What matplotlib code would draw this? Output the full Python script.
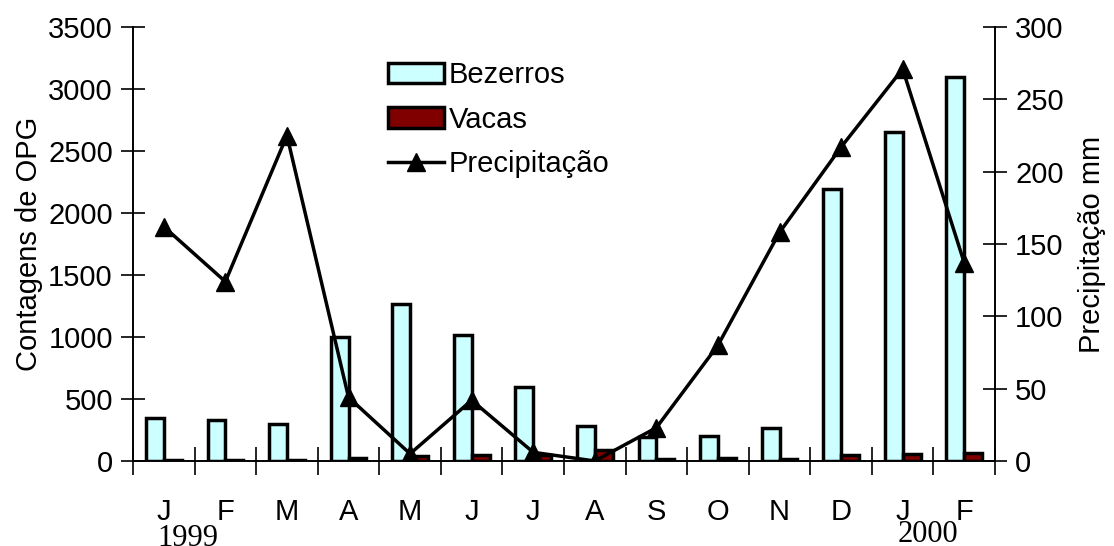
import numpy as np
import matplotlib
matplotlib.use('Agg')
import matplotlib.pyplot as plt
from matplotlib.patches import Patch
from matplotlib.lines import Line2D

plt.rcParams['font.family'] = ['Liberation Sans', 'DejaVu Sans']

meses = ['J', 'F', 'M', 'A', 'M', 'J', 'J', 'A', 'S', 'O', 'N', 'D', 'J', 'F']
bezerros = [350, 330, 300, 1000, 1270, 1020, 600, 280, 190, 200, 270, 2190, 2650, 3100]
vacas = [5, 5, 10, 25, 40, 50, 45, 90, 15, 25, 20, 50, 55, 65]
precipitacao = [162, 124, 225, 44, 5, 42, 6, 0, 23, 80, 158, 217, 271, 137]

x = np.arange(len(meses))
w = 0.29
fs = 21

fig = plt.figure(figsize=(11.14, 5.46), dpi=100)
ax = fig.add_axes([0.1194, 0.1557, 0.7738, 0.7948])
ax2 = ax.twinx()

ax.bar(x - w / 2, bezerros, w, color='#CCFFFF', edgecolor='black', linewidth=2.5, label='Bezerros')
ax.bar(x + w / 2, vacas, w, color='#800000', edgecolor='black', linewidth=2.5, label='Vacas')
ax2.plot(x, precipitacao, color='black', linewidth=2.5, marker='^', markersize=13,
         label='Precipitação')

ax.set_xlim(-0.5, len(meses) - 0.5)
ax.set_ylim(0, 3500)
ax2.set_ylim(0, 300)
ax.set_yticks(range(0, 3501, 500))
ax2.set_yticks(range(0, 301, 50))

for a in (ax, ax2):
    a.spines['top'].set_visible(False)
    for s in ['left', 'right', 'bottom']:
        a.spines[s].set_linewidth(1.2)

# month labels sit between the boundary ticks
ax.set_xticks(np.arange(-0.5, len(meses), 1))
ax.set_xticklabels([])
ax.set_xticks(x, minor=True)
ax.set_xticklabels(meses, minor=True)
ax.tick_params(axis='x', which='major', direction='inout', length=20, width=1.2)
ax.tick_params(axis='x', which='minor', length=0, pad=27, labelsize=fs)
ax.tick_params(axis='y', direction='inout', length=17, width=1.2, labelsize=fs, pad=6)
ax2.tick_params(axis='y', direction='inout', length=17, width=1.2, labelsize=fs, pad=6)

ax.set_ylabel('Contagens de OPG', fontsize=fs, labelpad=4)
ax2.set_ylabel('Precipitação mm', fontsize=fs, labelpad=10)

fig.text(188 / 1114, 1 - 538 / 546, '1999', family='Liberation Serif', fontsize=22,
         ha='center', va='center')
fig.text(928 / 1114, 1 - 534 / 546, '2000', family='Liberation Serif', fontsize=22,
         ha='center', va='center')

handles = [Patch(facecolor='#CCFFFF', edgecolor='black', linewidth=2.5),
           Patch(facecolor='#800000', edgecolor='black', linewidth=2.5),
           Line2D([], [], color='black', linewidth=2.5, marker='^', markersize=13)]
leg = ax.legend(handles, ['Bezerros', 'Vacas', 'Precipitação'], loc='upper left',
                bbox_to_anchor=(0.296, 0.921), frameon=False, fontsize=fs,
                handlelength=1.92, handletextpad=0.15, labelspacing=0.56,
                borderaxespad=0, borderpad=0)

fig.savefig('out.png', dpi=100)
